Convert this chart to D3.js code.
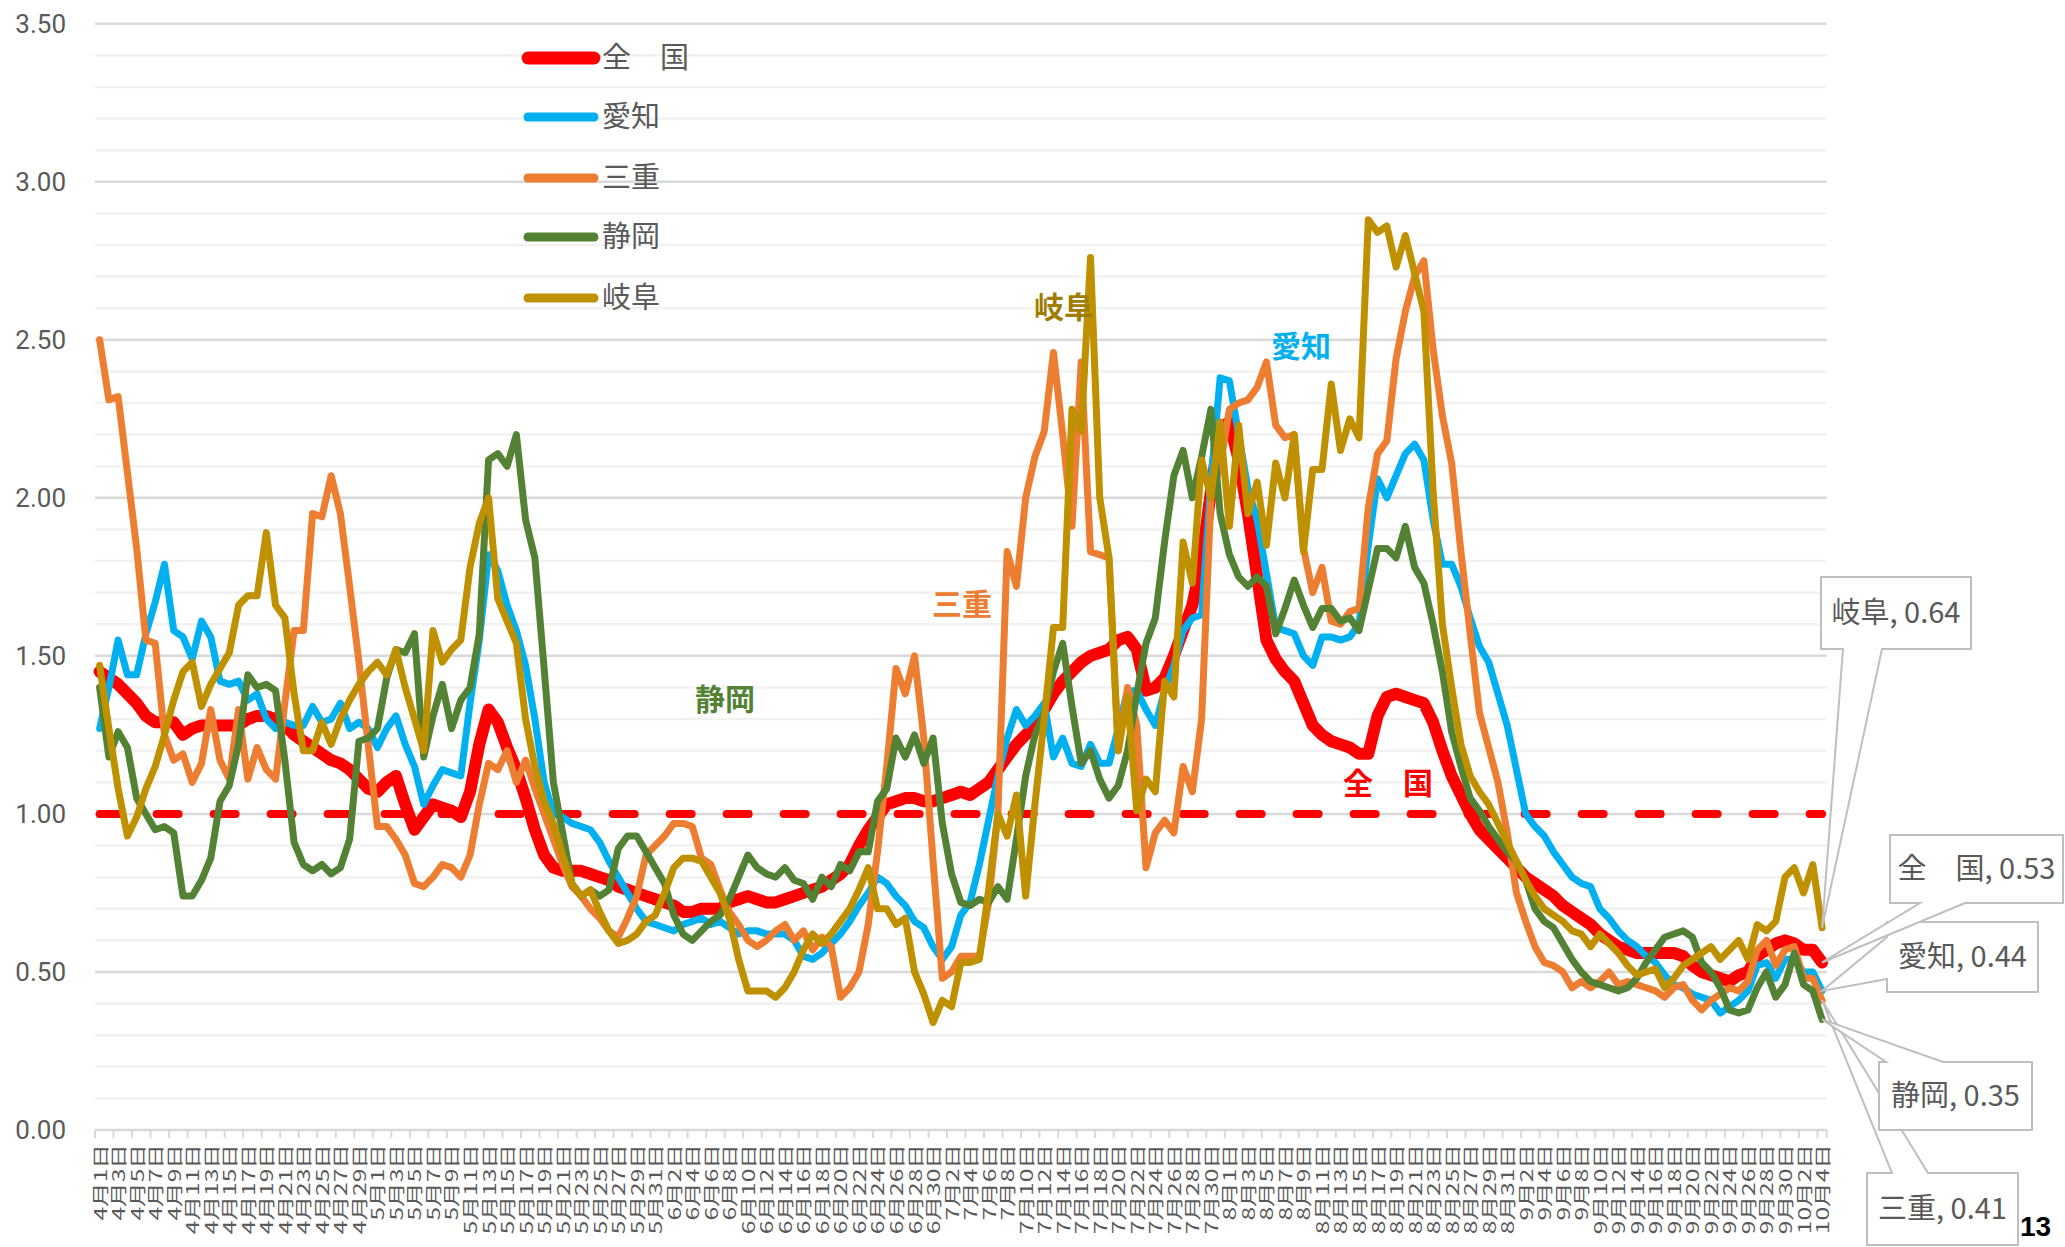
<!DOCTYPE html>
<html>
<head>
<meta charset="utf-8">
<script src="https://cdn.jsdelivr.net/npm/d3@7"></script>
<style>
  body { margin: 0; background: #fff; overflow: hidden; }
  svg { display: block; }
  text { font-family: "Noto Sans CJK JP", "Noto Sans", sans-serif; }
</style>
</head>
<body>
<div id="chart"></div>
<script>
// daily values, 4/1 .. 10/4
var seriesNames = ["全　国", "愛知", "三重", "静岡", "岐阜"];
var firstDay = new Date(2021, 3, 1), lastDay = new Date(2021, 9, 4);
var yTicks = [0, 0.5, 1, 1.5, 2, 2.5, 3, 3.5];
var baseline = 1.0;

var zenkoku = [1.45,1.43,1.41,1.38,1.35,1.31,1.29,1.29,1.29,1.25,1.27,1.28,1.28,1.28,1.28,1.28,1.30,1.31,1.31,1.30,1.28,1.25,1.23,1.21,1.19,1.17,1.16,1.14,1.11,1.08,1.07,1.10,
  1.12,1.03,0.95,0.99,1.03,1.02,1.01,0.99,1.07,1.22,1.33,1.29,1.21,1.14,1.05,0.95,0.87,0.83,0.82,0.82,0.82,0.81,0.80,0.79,0.77,0.76,0.75,0.74,0.73,0.72,0.71,
  0.69,0.69,0.70,0.70,0.70,0.72,0.73,0.74,0.73,0.72,0.72,0.73,0.74,0.75,0.76,0.77,0.79,0.81,0.84,0.90,0.95,0.99,1.03,1.04,1.05,1.05,1.04,1.04,1.05,1.06,1.07,1.06,
  1.08,1.10,1.14,1.18,1.22,1.25,1.28,1.33,1.38,1.42,1.45,1.48,1.50,1.51,1.52,1.55,1.56,1.52,1.39,1.40,1.43,1.50,1.58,1.66,1.80,2.02,2.22,2.24,2.12,1.95,1.75,
  1.55,1.49,1.45,1.42,1.35,1.28,1.25,1.23,1.22,1.21,1.19,1.19,1.31,1.37,1.38,1.37,1.36,1.35,1.29,1.20,1.12,1.06,1.00,0.95,0.92,0.89,0.86,0.83,0.80,0.78,0.76,
  0.74,0.71,0.69,0.67,0.65,0.62,0.60,0.58,0.57,0.56,0.56,0.56,0.56,0.56,0.55,0.52,0.50,0.49,0.48,0.47,0.49,0.50,0.55,0.57,0.59,0.60,0.59,0.57,0.57,0.53];

var aichi = [1.27,1.40,1.55,1.44,1.44,1.57,1.67,1.79,1.58,1.56,1.49,1.61,1.56,1.42,1.41,1.42,1.36,1.38,1.30,1.27,1.29,1.28,1.28,1.34,1.29,1.30,1.35,1.27,1.29,1.27,1.21,1.27,
  1.31,1.22,1.15,1.03,1.09,1.14,1.13,1.12,1.35,1.55,1.82,1.77,1.66,1.58,1.47,1.30,1.10,1.00,0.99,0.97,0.96,0.95,0.91,0.85,0.80,0.75,0.70,0.66,0.65,0.64,0.63,
  0.65,0.66,0.67,0.65,0.66,0.64,0.62,0.63,0.63,0.62,0.62,0.62,0.60,0.55,0.54,0.56,0.59,0.62,0.66,0.71,0.75,0.80,0.78,0.74,0.71,0.66,0.64,0.58,0.54,0.58,0.68,0.72,
  0.84,0.98,1.12,1.24,1.33,1.28,1.31,1.35,1.18,1.24,1.16,1.15,1.22,1.16,1.16,1.27,1.39,1.39,1.33,1.28,1.39,1.47,1.58,1.62,1.63,2.05,2.38,2.37,2.20,2.03,1.93,
  1.76,1.59,1.58,1.57,1.50,1.47,1.56,1.56,1.55,1.56,1.60,1.85,2.06,2.00,2.07,2.14,2.17,2.12,1.93,1.79,1.79,1.72,1.62,1.53,1.48,1.38,1.28,1.14,1.00,0.96,0.93,
  0.88,0.84,0.80,0.78,0.77,0.70,0.67,0.63,0.60,0.58,0.55,0.53,0.49,0.46,0.45,0.43,0.42,0.41,0.37,0.39,0.41,0.44,0.52,0.53,0.48,0.54,0.54,0.50,0.50,0.44];

var mie = [2.50,2.31,2.32,2.08,1.84,1.55,1.54,1.25,1.17,1.19,1.10,1.16,1.33,1.17,1.11,1.33,1.11,1.21,1.14,1.11,1.35,1.58,1.58,1.95,1.94,2.07,1.95,1.72,1.48,1.22,0.96,0.96,
  0.92,0.87,0.78,0.77,0.80,0.84,0.83,0.80,0.87,1.03,1.16,1.14,1.20,1.10,1.17,1.08,1.00,0.92,0.84,0.77,0.74,0.70,0.67,0.63,0.61,0.67,0.74,0.87,0.90,0.93,0.97,
  0.97,0.96,0.86,0.84,0.76,0.69,0.65,0.60,0.58,0.60,0.63,0.65,0.60,0.63,0.57,0.61,0.58,0.42,0.45,0.50,0.65,0.88,1.15,1.46,1.38,1.50,1.24,0.85,0.48,0.50,0.55,0.55,
  0.55,0.72,1.00,1.83,1.72,2.00,2.13,2.21,2.46,2.20,1.91,2.43,1.83,1.82,1.81,1.20,1.40,1.28,0.83,0.94,0.98,0.94,1.15,1.07,1.30,2.00,2.10,2.28,2.30,2.31,2.35,
  2.43,2.23,2.19,2.20,1.84,1.70,1.78,1.61,1.60,1.64,1.65,1.97,2.14,2.18,2.44,2.59,2.70,2.75,2.47,2.26,2.11,1.83,1.57,1.32,1.21,1.10,0.94,0.75,0.66,0.58,0.53,
  0.52,0.50,0.45,0.47,0.45,0.47,0.50,0.46,0.47,0.46,0.45,0.44,0.42,0.45,0.46,0.41,0.38,0.41,0.43,0.45,0.44,0.47,0.57,0.60,0.52,0.57,0.58,0.48,0.48,0.41];

var shizuoka = [1.40,1.18,1.26,1.21,1.05,1.00,0.95,0.96,0.94,0.74,0.74,0.79,0.86,1.04,1.09,1.22,1.44,1.40,1.41,1.39,1.17,0.91,0.84,0.82,0.84,0.81,0.83,0.92,1.23,1.24,1.27,1.43,
  1.52,1.51,1.57,1.18,1.31,1.41,1.27,1.36,1.40,1.57,2.12,2.14,2.10,2.20,1.93,1.81,1.46,1.10,0.94,0.78,0.74,0.76,0.74,0.76,0.89,0.93,0.93,0.88,0.83,0.78,0.68,
  0.62,0.60,0.63,0.66,0.68,0.73,0.80,0.87,0.83,0.81,0.80,0.83,0.79,0.78,0.73,0.80,0.77,0.84,0.82,0.88,0.88,1.04,1.08,1.24,1.18,1.25,1.16,1.24,0.97,0.81,0.72,0.71,
  0.73,0.72,0.77,0.73,0.92,1.12,1.25,1.32,1.45,1.54,1.34,1.16,1.20,1.11,1.05,1.09,1.20,1.38,1.54,1.62,1.86,2.07,2.15,2.00,2.13,2.28,1.95,1.82,1.75,1.72,1.75,
  1.72,1.57,1.65,1.74,1.66,1.59,1.65,1.65,1.61,1.62,1.58,1.71,1.84,1.84,1.81,1.91,1.78,1.73,1.60,1.45,1.26,1.15,1.05,1.01,0.96,0.92,0.88,0.85,0.79,0.70,0.66,
  0.64,0.59,0.54,0.50,0.47,0.46,0.45,0.44,0.45,0.48,0.53,0.57,0.61,0.62,0.63,0.61,0.53,0.50,0.45,0.38,0.37,0.38,0.45,0.50,0.42,0.46,0.56,0.46,0.44,0.35];

var gifu = [1.47,1.27,1.08,0.93,0.99,1.08,1.15,1.25,1.36,1.45,1.48,1.34,1.41,1.46,1.51,1.66,1.69,1.69,1.89,1.66,1.62,1.38,1.20,1.20,1.29,1.22,1.30,1.36,1.41,1.45,1.48,1.44,
  1.52,1.40,1.30,1.20,1.58,1.48,1.52,1.55,1.78,1.92,2.00,1.68,1.61,1.54,1.30,1.15,1.04,0.97,0.87,0.78,0.74,0.76,0.69,0.63,0.59,0.60,0.62,0.66,0.68,0.75,0.83,
  0.86,0.86,0.85,0.80,0.75,0.67,0.54,0.44,0.44,0.44,0.42,0.45,0.50,0.57,0.62,0.59,0.62,0.66,0.70,0.76,0.83,0.70,0.70,0.65,0.67,0.50,0.43,0.34,0.41,0.39,0.53,0.53,
  0.54,0.76,1.00,0.93,1.06,0.74,1.03,1.30,1.59,1.59,2.28,2.21,2.76,2.00,1.81,1.20,1.37,1.01,1.11,1.07,1.42,1.37,1.86,1.73,2.12,2.00,2.24,1.91,2.23,1.95,2.05,
  1.85,2.11,2.00,2.20,1.83,2.09,2.09,2.36,2.15,2.25,2.19,2.88,2.84,2.86,2.73,2.83,2.71,2.59,2.02,1.60,1.40,1.22,1.12,1.07,1.03,0.97,0.91,0.85,0.79,0.74,0.70,
  0.68,0.66,0.63,0.62,0.58,0.62,0.59,0.56,0.52,0.49,0.50,0.51,0.45,0.48,0.52,0.54,0.56,0.58,0.54,0.57,0.60,0.54,0.65,0.63,0.66,0.80,0.83,0.75,0.84,0.64];

var width = 2065, height = 1247;
var days = d3.timeDay.range(firstDay, d3.timeDay.offset(lastDay, 1));
var fmt = d3.timeFormat("%-m月%-d日");

var series = [
  {name: seriesNames[0], values: zenkoku,  color: "#FF0000", w: 12},
  {name: seriesNames[1], values: aichi,    color: "#00B0F0", w: 7},
  {name: seriesNames[2], values: mie,      color: "#ED7D31", w: 7},
  {name: seriesNames[3], values: shizuoka, color: "#548235", w: 7},
  {name: seriesNames[4], values: gifu,     color: "#BF9000", w: 7}
];

var svg = d3.select("#chart").append("svg")
    .attr("width", width)
    .attr("height", height);

var x = d3.scaleBand()
    .domain(d3.range(days.length))
    .range([95, 1826.7]);

var y = d3.scaleLinear()
    .domain([0, 3.5])
    .range([1130, 23.7]);

function cx(i) { return x(i) + x.bandwidth() / 2; }

// gridlines, light every 0.1 and darker every 0.5
var grid = d3.range(0, 36).map(function(k) { return k / 10; });
svg.append("g").selectAll("line")
    .data(grid)
    .join("line")
    .attr("x1", 95).attr("x2", 1826.7)
    .attr("y1", function(d) { return y(d); })
    .attr("y2", function(d) { return y(d); })
    .attr("stroke", function(d, i) { return i % 5 === 0 ? "#D9D9D9" : "#F2F2F2"; })
    .attr("stroke-width", 2.5);

// y axis labels
var yAxis = svg.append("g")
    .attr("transform", "translate(95,0)")
    .call(d3.axisLeft(y).tickValues(yTicks).tickFormat(d3.format(".2f")).tickSize(0).tickPadding(29));
yAxis.select(".domain").remove();
yAxis.selectAll("text")
    .attr("font-size", 26)
    .attr("fill", "#595959")
    .style("font-family", "Roboto, 'Noto Sans', sans-serif");

// x ticks and labels
var tickIdx = d3.range(0, days.length + 1, 2).concat([days.length]);
svg.append("g").selectAll("line")
    .data(tickIdx)
    .join("line")
    .attr("x1", function(d) { return d < days.length ? x(d) : 1826.7; })
    .attr("x2", function(d) { return d < days.length ? x(d) : 1826.7; })
    .attr("y1", 1130).attr("y2", 1138)
    .attr("stroke", "#D9D9D9")
    .attr("stroke-width", 2);

// labels are stretched along their length like the original's font
svg.append("g").selectAll("text")
    .data(d3.range(0, days.length, 2))
    .join("text")
    .attr("transform", function(d) { return "translate(" + (cx(d) + 1) + ",1144) rotate(-90) scale(1.45,1)"; })
    .attr("text-anchor", "end")
    .attr("dy", "0.35em")
    .attr("font-size", 17)
    .attr("fill", "#595959")
    .text(function(d) { return fmt(days[d]); });

// reference line at 1.0
svg.append("line")
    .attr("x1", cx(0)).attr("x2", cx(days.length - 1))
    .attr("y1", y(baseline)).attr("y2", y(baseline))
    .attr("stroke", "#FF0000")
    .attr("stroke-width", 8)
    .attr("stroke-linecap", "round")
    .attr("stroke-dasharray", "22 35");

var line = d3.line()
    .x(function(d, i) { return cx(i); })
    .y(function(d) { return y(d); });

svg.append("g").selectAll("path")
    .data(series)
    .join("path")
    .attr("d", function(s) { return line(s.values); })
    .attr("fill", "none")
    .attr("stroke", function(s) { return s.color; })
    .attr("stroke-width", function(s) { return s.w; })
    .attr("stroke-linejoin", "round")
    .attr("stroke-linecap", "round");

// legend
var legendY = [58, 117, 178, 237, 298];
var legend = svg.append("g").selectAll("g")
    .data(series)
    .join("g")
    .attr("transform", function(d, i) { return "translate(0," + legendY[i] + ")"; });
legend.append("line")
    .attr("x1", 528).attr("x2", 594)
    .attr("stroke", function(d) { return d.color; })
    .attr("stroke-width", function(d, i) { return i === 0 ? 13 : 9; })
    .attr("stroke-linecap", "round");
legend.append("text")
    .attr("x", 602)
    .attr("dy", "0.36em")
    .attr("font-size", 29)
    .attr("fill", "#595959")
    .text(function(d) { return d.name; });

// names written in the plot
var notes = [
  {t: "岐阜", x: 1064, y: 318, c: "#A07C00"},
  {t: "愛知", x: 1301, y: 357, c: "#00B0F0"},
  {t: "三重", x: 962, y: 615, c: "#ED7D31"},
  {t: "静岡", x: 725, y: 710, c: "#548235"},
  {t: "全　国", x: 1388, y: 794, c: "#FF0000"}
];
svg.append("g").selectAll("text")
    .data(notes)
    .join("text")
    .attr("x", function(d) { return d.x; })
    .attr("y", function(d) { return d.y; })
    .attr("text-anchor", "middle")
    .attr("font-size", 30)
    .attr("font-weight", "bold")
    .attr("fill", function(d) { return d.c; })
    .text(function(d) { return d.t; });

// callout labels for the last point
var callouts = [
  {s: 2, box: [1867, 1173, 151, 72], side: "top", a: 1892, b: 1928},
  {s: 3, box: [1879, 1062, 153, 68], side: "top", a: 1886, b: 1943},
  {s: 1, box: [1887, 922, 151, 70], side: "left", a: 937, b: 979},
  {s: 0, box: [1890, 835, 173, 68], side: "bottom", a: 1920, b: 1965},
  {s: 4, box: [1821, 577, 150, 72], side: "bottom", a: 1843, b: 1882}
];
var last = days.length - 1;
callouts.forEach(function(c) {
  var s = series[c.s];
  var bx = c.box[0], by = c.box[1], bw = c.box[2], bh = c.box[3];
  var tx = cx(last), ty = y(s.values[last]);
  var p;
  if (c.side === "bottom") {
    p = "M" + bx + "," + by + "H" + (bx + bw) + "V" + (by + bh) + "H" + c.b +
        "L" + tx + "," + ty + "L" + c.a + "," + (by + bh) + "H" + bx + "Z";
  } else if (c.side === "top") {
    p = "M" + bx + "," + by + "H" + c.a + "L" + tx + "," + ty + "L" + c.b + "," + by +
        "H" + (bx + bw) + "V" + (by + bh) + "H" + bx + "Z";
  } else {
    p = "M" + bx + "," + by + "H" + (bx + bw) + "V" + (by + bh) + "H" + bx +
        "V" + c.b + "L" + tx + "," + ty + "L" + bx + "," + c.a + "Z";
  }
  svg.append("path")
      .attr("d", p)
      .attr("fill", "#fff")
      .attr("stroke", "#BFBFBF")
      .attr("stroke-width", 2)
      .attr("stroke-linejoin", "miter");
  svg.append("text")
      .attr("x", bx + bw / 2)
      .attr("y", by + bh / 2)
      .attr("dy", "0.36em")
      .attr("text-anchor", "middle")
      .attr("font-size", 29)
      .attr("fill", "#595959")
      .text(s.name + ", " + d3.format(".2f")(s.values[last]));
});

// page number at the bottom right corner
svg.append("text")
    .attr("x", 2020).attr("y", 1236)
    .attr("font-size", 28)
    .attr("font-weight", "bold")
    .attr("fill", "#000")
    .style("font-family", "'Liberation Sans Narrow', 'Liberation Sans', sans-serif")
    .text("13");
</script>
</body>
</html>
